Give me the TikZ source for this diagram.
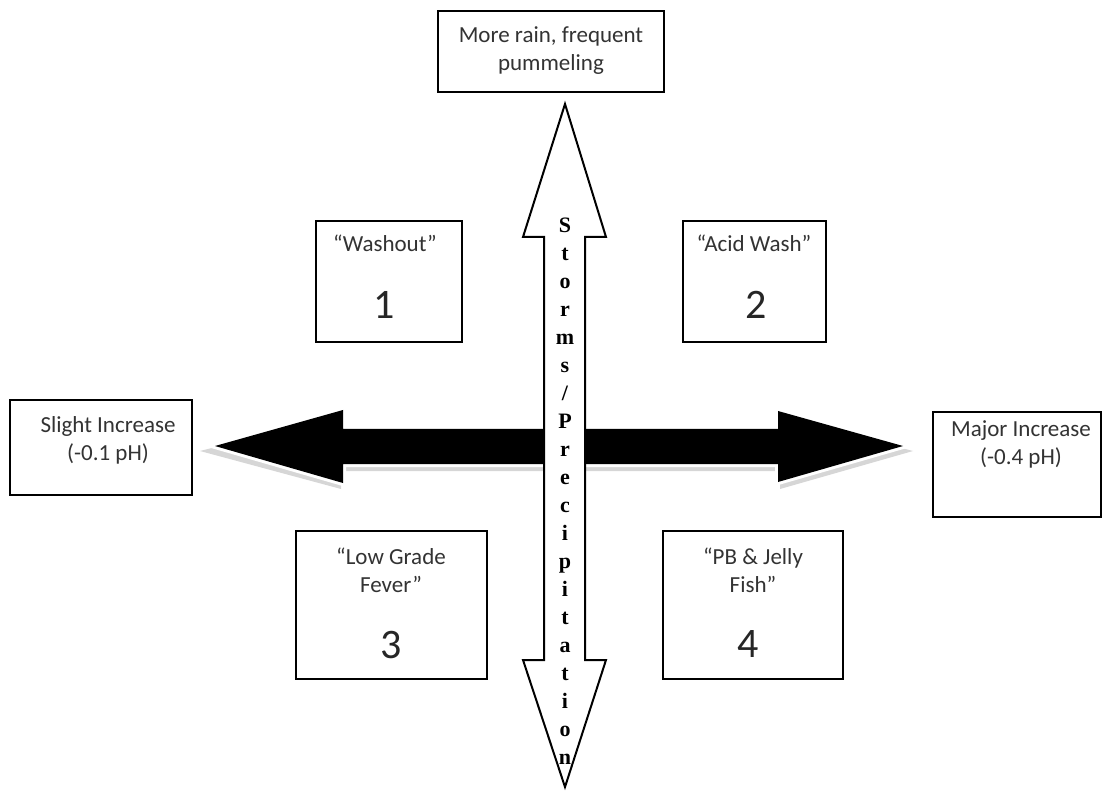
\documentclass[tikz,border=0pt]{standalone}
\usepackage{fontspec}
\setmainfont{Carlito}
\newfontfamily\vfont{Liberation Serif}
\begin{document}
\begin{tikzpicture}[x=0.5pt,y=-0.5pt,
  box/.style={draw=black, line width=1pt, fill=white, inner sep=0pt},
  lbl/.style={text=black!80, font=\fontsize{11.5}{14}\selectfont, align=center, inner sep=0pt},
  num/.style={text=black!85, font=\fontsize{21}{25}\selectfont, inner sep=0pt},
  blockarrow/.style={fill=white, draw=black, line width=1pt, line join=miter},
  blackarrow/.style={fill=black, draw=none},
  whiteedge/.style={draw=white, line width=3pt, line join=miter},
  arrowshadow/.style={fill=black!16, draw=none}]
\useasboundingbox (0,0) rectangle (1104,791);

% horizontal black arrow with shadow
\fill[arrowshadow] (200,451) -- (341,415) -- (341,434) -- (780,434) -- (780,416) -- (913,451)
  -- (780,489) -- (780,471) -- (341,471) -- (341,489) -- cycle;
\draw[whiteedge] (215,446) -- (343,410) -- (343,429) -- (778,429) -- (778,411) -- (903,446)
  -- (778,482) -- (778,464) -- (343,464) -- (343,483) -- cycle;
\fill[blackarrow] (215,446) -- (343,410) -- (343,429) -- (778,429) -- (778,411) -- (903,446)
  -- (778,482) -- (778,464) -- (343,464) -- (343,483) -- cycle;

% vertical white double arrow
\filldraw[blockarrow] (565,104) -- (606,237) -- (585,237) -- (585,660) -- (606,660) -- (565,787)
  -- (523,660) -- (544,660) -- (544,237) -- (523,237) -- cycle;
\node[inner sep=0pt, align=center, font=\vfont\bfseries\fontsize{11}{14}\selectfont] (vtext) at (565,491)
  {S\\t\\o\\r\\m\\s\\/\\P\\r\\e\\c\\i\\p\\i\\t\\a\\t\\i\\o\\n};

% boxes
\node[box, minimum width=113pt, minimum height=40.5pt] (top) at (551,51.5) {};
\node[lbl] (toptext) at (551,51) {More rain, frequent\\pummeling};

\node[box, minimum width=91pt, minimum height=47.5pt] (left) at (101,447.5) {};
\node[lbl] (lefttext) at (108,440) {Slight Increase\\(-0.1 pH)};

\node[box, minimum width=84pt, minimum height=52.5pt] (right) at (1017,464.5) {};
\node[lbl] (righttext) at (1021,444) {Major Increase\\(-0.4 pH)};

\node[box, minimum width=73pt, minimum height=60.5pt] (b1) at (389,281.5) {};
\node[lbl] (b1t) at (385,243) {“Washout”};
\node[num] (b1n) at (384,305) {1};

\node[box, minimum width=71.5pt, minimum height=60.5pt] (b2) at (754.5,281.5) {};
\node[lbl] (b2t) at (754,243) {“Acid Wash”};
\node[num] (b2n) at (756,305) {2};

\node[box, minimum width=95.5pt, minimum height=74pt] (b3) at (391.5,605) {};
\node[lbl] (b3t) at (391,570) {“Low Grade\\Fever”};
\node[num] (b3n) at (391,645) {3};

\node[box, minimum width=90pt, minimum height=74pt] (b4) at (753,605) {};
\node[lbl] (b4t) at (753,570) {“PB \& Jelly\\Fish”};
\node[num] (b4n) at (748,644) {4};
\end{tikzpicture}
\end{document}
